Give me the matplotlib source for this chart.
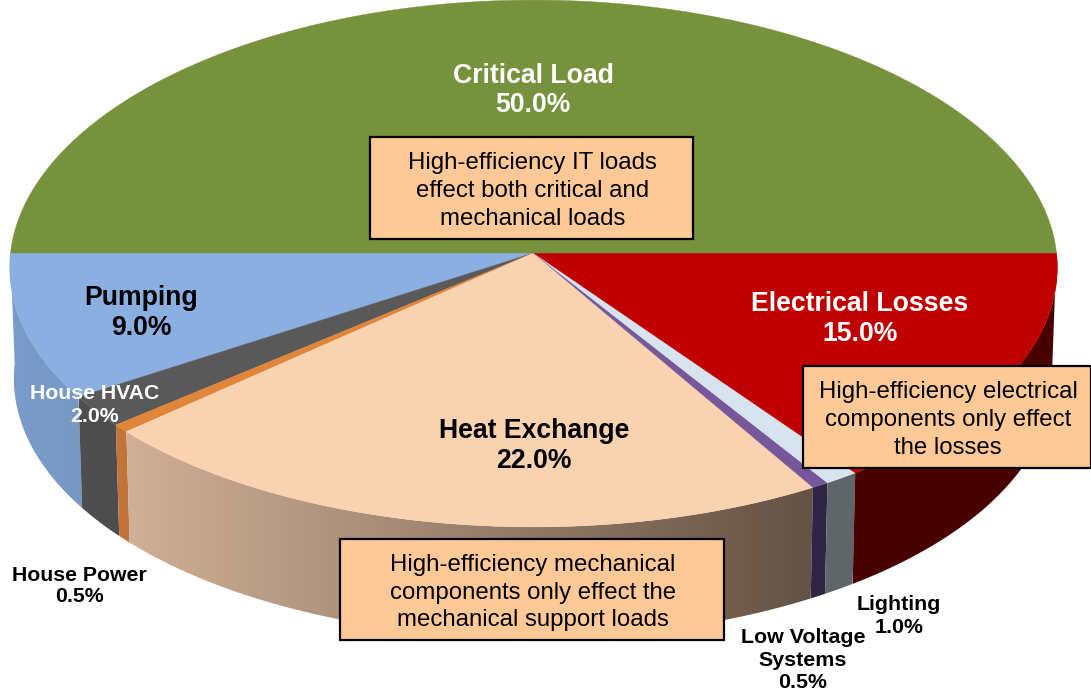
"""3D pie of data center load shares, with callout boxes."""
import matplotlib
matplotlib.use("Agg")
import matplotlib.pyplot as plt
import numpy as np
from matplotlib.colors import LinearSegmentedColormap
from matplotlib.patches import Polygon, Rectangle

plt.rcParams["font.family"] = ["Liberation Sans", "DejaVu Sans"]

# slices, clockwise-on-screen from the west edge of the pie
NAMES = ["Pumping", "House HVAC", "House Power", "Heat Exchange",
         "Low Voltage\nSystems", "Lighting", "Electrical Losses", "Critical Load"]
VALUES = [9.0, 2.0, 0.5, 22.0, 0.5, 1.0, 15.0, 50.0]

TOP_COLORS = ["#8AAFE0", "#595959", "#E0853A", "#F9D2B0",
              "#76589A", "#D8E3F0", "#BE0000", "#76923C"]
SIDE_START = ["#7A9CCB", "#4F4F4F", "#C4763A", "#D0B096",
              "#2F2545", "#5F6669", "#4A0000", "#4A4A4A"]
SIDE_END = ["#7898C3", "#4D4D4D", "#C0743A", "#645244",
            "#2F2545", "#5F6669", "#4A0000", "#4A4A4A"]

LABEL_POS = [(141, 313), (95, 405), (79, 586), (534, 446),
             (803, 660), (899, 616), (860, 319), (533, 90)]
LABEL_SIZE = [19.2, 15.3, 15.3, 19.2, 15.4, 15.4, 19.2, 19.2]
LABEL_GAP = [1.22, 1.3, 1.18, 1.22, 1.22, 1.25, 1.22, 1.15]
LABEL_COLOR = ["black", "white", "black", "black", "black", "black", "white", "white"]

BOX_TEXT = ["High-efficiency IT loads\neffect both critical and\nmechanical loads",
            "High-efficiency electrical\ncomponents only effect\nthe losses",
            "High-efficiency mechanical\ncomponents only effect the\nmechanical support loads"]
BOX_RECT = [(370, 137, 323, 102), (803, 366, 288, 102), (340, 539, 384, 101)]

CX, CY = 533.5, 253
RX, RY = 523, 263
KX, KY = 0.055, 0.0398   # perspective, front of the pie looks bigger
DEPTH = 111


def rim(t):
    """Top rim in pixels for angle t (degrees from west, going down the front)."""
    t = np.radians(t)
    return (CX - RX * np.cos(t) / (1 - KX * np.sin(t)),
            CY + RY * np.sin(t) / (1 - KY * np.sin(t)))


def rim_low(t):
    x, y = rim(t)
    return CX + (x - CX) * 0.992, y + DEPTH


fig = plt.figure(figsize=(10.91, 6.94), dpi=100)
ax = fig.add_axes([0, 0, 1, 1])

edges = np.cumsum([0] + VALUES) / np.sum(VALUES) * 360

# side walls first, only the front half shows. Gradient image clipped to the wall.
for i in range(len(VALUES)):
    a0, a1 = edges[i], min(edges[i + 1], 180)
    if a0 >= 180:
        continue
    xt, yt = rim(np.linspace(a0, a1, 200))
    xb, yb = rim_low(np.linspace(a1, a0, 200))
    wall = Polygon(list(zip(xt, yt)) + list(zip(xb, yb)), closed=True,
                   facecolor="none", edgecolor="none", transform=ax.transData)
    ax.add_patch(wall)
    xs = np.concatenate([xt, xb])
    ys = np.concatenate([yt, yb])
    cmap = LinearSegmentedColormap.from_list(f"side{i}", [SIDE_START[i], SIDE_END[i]])
    im = ax.imshow(np.linspace(0, 1, 256).reshape(1, -1), cmap=cmap, aspect="auto",
                   extent=(xs.min(), xs.max(), ys.max(), ys.min()), zorder=1)
    im.set_clip_path(wall)

ax.set_xlim(0, 1091)
ax.set_ylim(694, 0)
ax.axis("off")

# top faces
for i in range(len(VALUES)):
    ts = np.linspace(edges[i], edges[i + 1], 200)
    xs, ys = rim(ts)
    pts = [(CX, CY)] + list(zip(xs, ys))
    ax.add_patch(Polygon(pts, closed=True, facecolor=TOP_COLORS[i],
                         edgecolor=TOP_COLORS[i], linewidth=0.3, zorder=2))

# slice labels
for name, val, pos, size, gap, col in zip(NAMES, VALUES, LABEL_POS, LABEL_SIZE, LABEL_GAP, LABEL_COLOR):
    ax.text(pos[0], pos[1], f"{name}\n{val:.1f}%", ha="center", va="center",
            fontsize=size, fontweight="bold", color=col, linespacing=gap, zorder=4)

# callouts
for txt, (x, y, w, h) in zip(BOX_TEXT, BOX_RECT):
    ax.add_patch(Rectangle((x, y), w, h, facecolor="#FEC996", edgecolor="black",
                           linewidth=1.6, clip_on=False, zorder=5))
    ax.text(x + w / 2 + 1, y + h / 2 + 3, txt, ha="center", va="center", fontsize=17.3,
            color="black", linespacing=1.33, zorder=6)

fig.savefig("out.png", dpi=100)
